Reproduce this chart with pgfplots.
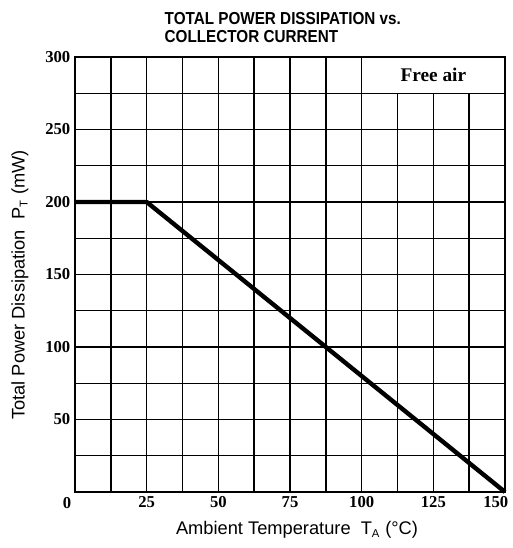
\documentclass[border=0pt]{standalone}
\usepackage{fontspec}
\setmainfont{Liberation Serif}
\setsansfont{Liberation Sans}
\newfontfamily\titlefont[FakeStretch=0.88]{Liberation Sans}
\usepackage{pgfplots}
\pgfplotsset{compat=1.18}
\begin{document}
\begin{tikzpicture}
\path[use as bounding box] (-56.25pt,-42pt) rectangle (327.75pt,369pt);
\begin{axis}[
  scale only axis, width=322.5pt, height=326.25pt,
  xmin=0, xmax=150, ymin=0, ymax=300,
  xtick={25,50,...,125}, ytick={50,100,...,300},
  extra x ticks={150},
  extra x tick style={xticklabel style={anchor=north east, xshift=6pt}},
  minor xtick={12.5,37.5,...,137.5}, minor ytick={25,75,...,275},
  grid=both,
  major grid style={black, line width=1.1pt},
  minor grid style={black, line width=1.1pt},
  axis line style={line width=1.4pt},
  tick style={draw=none},
  tick label style={font=\bfseries\fontsize{12.5}{14}\selectfont},
  /pgf/number format/assume math mode=true,
  clip=false,
]
\fill[white, draw=black, line width=1.1pt] (axis cs:100,275) rectangle (axis cs:150,300);
\node[font=\bfseries\fontsize{14.5}{16}\selectfont] at (axis cs:125,287.5) {Free air};
\addplot[black, line width=3.3pt, line join=round] coordinates {(0,200) (25,200) (150,0)};
\node[font=\bfseries\fontsize{12.5}{14}\selectfont] at (axis cs:0,0) [xshift=-6pt, yshift=-8.5pt] {0};
\end{axis}
\node[anchor=north west, align=left, font=\titlefont\bfseries\fontsize{13}{13.5}\selectfont] at (63.75pt,363pt) {TOTAL POWER DISSIPATION vs.\\COLLECTOR CURRENT};
\node[rotate=90, font=\sffamily\fontsize{13.7}{15}\selectfont] at (-41.25pt,155.25pt) {Total Power Dissipation\ \ P\textsubscript{\fontsize{8.5}{9}\selectfont T} (mW)};
\node[font=\sffamily\fontsize{13.7}{15}\selectfont] at (166.5pt,-28.5pt) {Ambient Temperature\ \ T\textsubscript{\fontsize{8.5}{9}\selectfont A} (\textdegree C)};
\end{tikzpicture}
\end{document}
